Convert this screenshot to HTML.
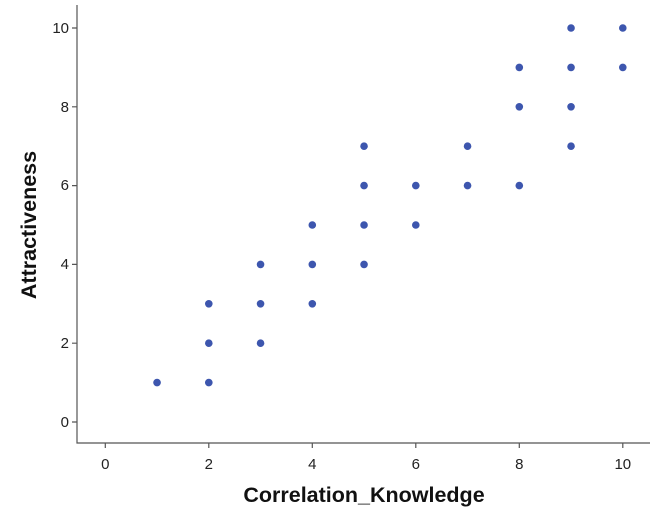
<!DOCTYPE html><html><head><style>body{margin:0;background:#fff}</style></head><body>
<svg width="658" height="520" xmlns="http://www.w3.org/2000/svg" font-family="Liberation Sans, sans-serif">
<rect width="658" height="520" fill="#fff"/>
<g stroke="#555" stroke-width="1.2" fill="none">
<path d="M77 5 V443 H650"/>
<path d="M72 422H77M72 343.2H77M72 264.4H77M72 185.6H77M72 106.8H77M72 28H77"/>
<path d="M105.3 443V448M208.8 443V448M312.3 443V448M415.8 443V448M519.3 443V448M622.8 443V448"/>
</g>
<g font-size="15" fill="#222" text-anchor="end">
<text x="69" y="427">0</text><text x="69" y="348">2</text><text x="69" y="269">4</text><text x="69" y="190">6</text><text x="69" y="112">8</text><text x="69" y="33">10</text>
</g>
<g font-size="15" fill="#222" text-anchor="middle">
<text x="105.3" y="469">0</text><text x="208.8" y="469">2</text><text x="312.3" y="469">4</text><text x="415.8" y="469">6</text><text x="519.3" y="469">8</text><text x="622.8" y="469">10</text>
</g>
<text x="364" y="502" font-size="21.5" font-weight="bold" text-anchor="middle" fill="#111">Correlation_Knowledge</text>
<text transform="translate(36 225) rotate(-90)" font-size="21.5" font-weight="bold" text-anchor="middle" fill="#111">Attractiveness</text>
<g fill="#3D56AE" id="p"></g>
<script>
var pts=[[1,1],[2,1],[2,2],[2,3],[3,2],[3,3],[3,4],[4,3],[4,4],[4,5],[5,4],[5,5],[5,6],[5,7],[6,5],[6,6],[7,6],[7,7],[8,6],[8,8],[8,9],[9,7],[9,8],[9,9],[9,10],[10,9],[10,10]];
var g=document.getElementById('p');
pts.forEach(function(p){var c=document.createElementNS('http://www.w3.org/2000/svg','circle');c.setAttribute('cx',105.3+p[0]*51.75);c.setAttribute('cy',422-p[1]*39.4);c.setAttribute('r',3.8);g.appendChild(c);});
</script>
</svg>
</body></html>
